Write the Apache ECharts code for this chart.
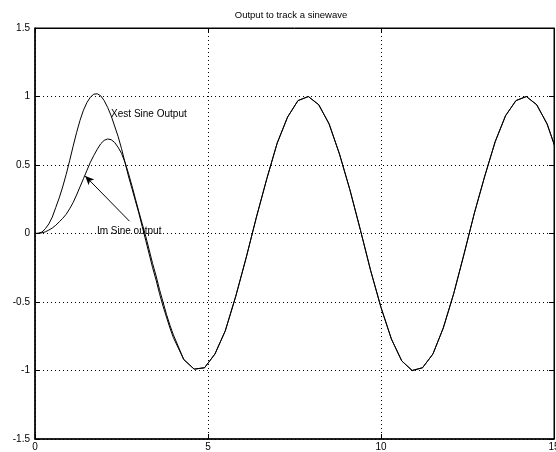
<!DOCTYPE html>
<html>
<head>
<meta charset="utf-8">
<script src="https://cdn.jsdelivr.net/npm/echarts@6/dist/echarts.min.js"></script>
<style>
  html, body { margin: 0; padding: 0; background: #fff; }
  #chart { width: 556px; height: 452px; }
</style>
</head>
<body>
<div id="chart"></div>
<script>
// time samples (fine at start, then the 0.3 step of the tracking part)
var xVals = [0, 0.1, 0.2, 0.3, 0.4, 0.5, 0.6, 0.7, 0.8, 0.9, 1.0, 1.1, 1.2, 1.3, 1.4, 1.5, 1.6, 1.7, 1.8, 1.9,
  2.0, 2.1, 2.2, 2.3, 2.4, 2.5, 2.6, 2.7, 2.8, 2.9, 3.0, 3.1, 3.2, 3.3, 3.4, 3.5, 3.6, 3.7, 3.8, 3.9, 4.0,
  4.3, 4.6, 4.9, 5.2, 5.5, 5.8, 6.1, 6.4, 6.7, 7.0, 7.3, 7.6, 7.9, 8.2, 8.5, 8.8, 9.1, 9.4, 9.7, 10.0,
  10.3, 10.6, 10.9, 11.2, 11.5, 11.8, 12.1, 12.4, 12.7, 13.0, 13.3, 13.6, 13.9, 14.2, 14.5, 14.8, 15.1];

// Xest Sine Output
var xestVals = [0, 0.002, 0.01, 0.035, 0.07, 0.12, 0.19, 0.26, 0.34, 0.43, 0.53, 0.635, 0.735, 0.825, 0.9, 0.955, 0.995, 1.017, 1.02, 1.005,
  0.97, 0.92, 0.86, 0.785, 0.71, 0.62, 0.52, 0.42, 0.33, 0.24, 0.15, 0.05, -0.05, -0.15, -0.25, -0.34, -0.44, -0.53, -0.61, -0.69, -0.76,
  -0.92, -0.99, -0.98, -0.88, -0.71, -0.46, -0.18, 0.12, 0.40, 0.66, 0.85, 0.97, 1.00, 0.94, 0.80, 0.58, 0.32, 0.03, -0.27, -0.54,
  -0.77, -0.93, -1.00, -0.98, -0.88, -0.69, -0.44, -0.15, 0.15, 0.42, 0.67, 0.86, 0.97, 1.00, 0.94, 0.80, 0.58];

// Im Sine output
var imVals = [0, 0.001, 0.005, 0.012, 0.025, 0.04, 0.06, 0.085, 0.11, 0.14, 0.18, 0.225, 0.28, 0.34, 0.40, 0.46, 0.52, 0.57, 0.615, 0.655,
  0.68, 0.69, 0.685, 0.665, 0.63, 0.585, 0.52, 0.44, 0.35, 0.255, 0.16, 0.07, -0.02, -0.12, -0.22, -0.31, -0.41, -0.5, -0.59, -0.67, -0.74,
  -0.92, -0.99, -0.98, -0.88, -0.71, -0.46, -0.18, 0.12, 0.40, 0.66, 0.85, 0.97, 1.00, 0.94, 0.80, 0.58, 0.32, 0.03, -0.27, -0.54,
  -0.77, -0.93, -1.00, -0.98, -0.88, -0.69, -0.44, -0.15, 0.15, 0.42, 0.67, 0.86, 0.97, 1.00, 0.94, 0.80, 0.58];

var xTicks = [0, 5, 10, 15];
var yTicks = [-1.5, -1, -0.5, 0, 0.5, 1, 1.5];

var font = 'Liberation Sans, Arial, sans-serif';
var myChart = echarts.init(document.getElementById('chart'), null, { renderer: 'canvas' });

function pairs(ys) {
  return xVals.map(function (x, i) { return [x, ys[i]]; });
}

var gridDots = { show: true, lineStyle: { color: '#000', width: 1, type: [1, 3] } };

var option = {
  animation: false,
  backgroundColor: '#fff',
  title: {
    text: 'Output to track a sinewave',
    left: 286,
    top: 5,
    textAlign: 'center',
    textStyle: { fontFamily: font, fontSize: 9.5, fontWeight: 'normal', color: '#000' }
  },
  grid: {
    left: 35, right: 2, top: 28, bottom: 13,
    outerBoundsMode: 'none',
    containLabel: false,
    show: true, borderColor: '#000', borderWidth: 1
  },
  xAxis: [
    {
      type: 'value', min: 0, max: 15, interval: 5,
      axisLine: { show: true, onZero: false, lineStyle: { color: '#000', width: 1.5 } },
      axisTick: { show: true, inside: true, length: 5, lineStyle: { color: '#000' } },
      axisLabel: { color: '#000', fontFamily: font, fontSize: 10, margin: 3, showMaxLabel: true, hideOverlap: false },
      splitLine: gridDots
    },
    {
      type: 'value', min: 0, max: 15, interval: 5, position: 'top',
      axisLine: { show: true, onZero: false, lineStyle: { color: '#000', width: 1 } },
      axisTick: { show: true, inside: true, length: 5, lineStyle: { color: '#000' } },
      axisLabel: { show: false },
      splitLine: { show: false }
    }
  ],
  yAxis: [
    {
      type: 'value', min: -1.5, max: 1.5, interval: 0.5,
      axisLine: { show: true, onZero: false, lineStyle: { color: '#000', width: 1.5 } },
      axisTick: { show: true, inside: true, length: 5, lineStyle: { color: '#000' } },
      axisLabel: { color: '#000', fontFamily: font, fontSize: 10, margin: 5 },
      splitLine: gridDots
    },
    {
      type: 'value', min: -1.5, max: 1.5, interval: 0.5, position: 'right',
      axisLine: { show: true, onZero: false, lineStyle: { color: '#000', width: 1 } },
      axisTick: { show: true, inside: true, length: 5, lineStyle: { color: '#000' } },
      axisLabel: { show: false },
      splitLine: { show: false }
    }
  ],
  series: [
    {
      name: 'Xest Sine Output',
      type: 'line',
      data: pairs(xestVals),
      showSymbol: false,
      clip: true,
      lineStyle: { color: '#000', width: 1 },
      itemStyle: { color: '#000' }
    },
    {
      name: 'Im Sine output',
      type: 'line',
      data: pairs(imVals),
      showSymbol: false,
      clip: true,
      lineStyle: { color: '#000', width: 1 },
      itemStyle: { color: '#000' },
      markLine: {
        silent: true,
        symbol: ['none', 'arrow'],
        symbolSize: [6, 9],
        label: { show: false },
        lineStyle: { color: '#000', width: 1, type: 'solid' },
        data: [[{ coord: [2.73, 0.09] }, { coord: [1.45, 0.42] }]]
      }
    }
  ]
};
myChart.setOption(option);

// text annotations anchored in data space
var notes = [
  { text: 'Xest Sine Output', at: [2.2, 0.87] },
  { text: 'Im Sine output', at: [1.79, 0.02] }
];
myChart.setOption({
  graphic: notes.map(function (n) {
    var p = myChart.convertToPixel({ gridIndex: 0 }, n.at);
    return {
      type: 'text', x: p[0], y: p[1], z: 10,
      style: { text: n.text, fill: '#000', font: '10px ' + font, textVerticalAlign: 'middle', textAlign: 'left' }
    };
  })
});
</script>
</body>
</html>
